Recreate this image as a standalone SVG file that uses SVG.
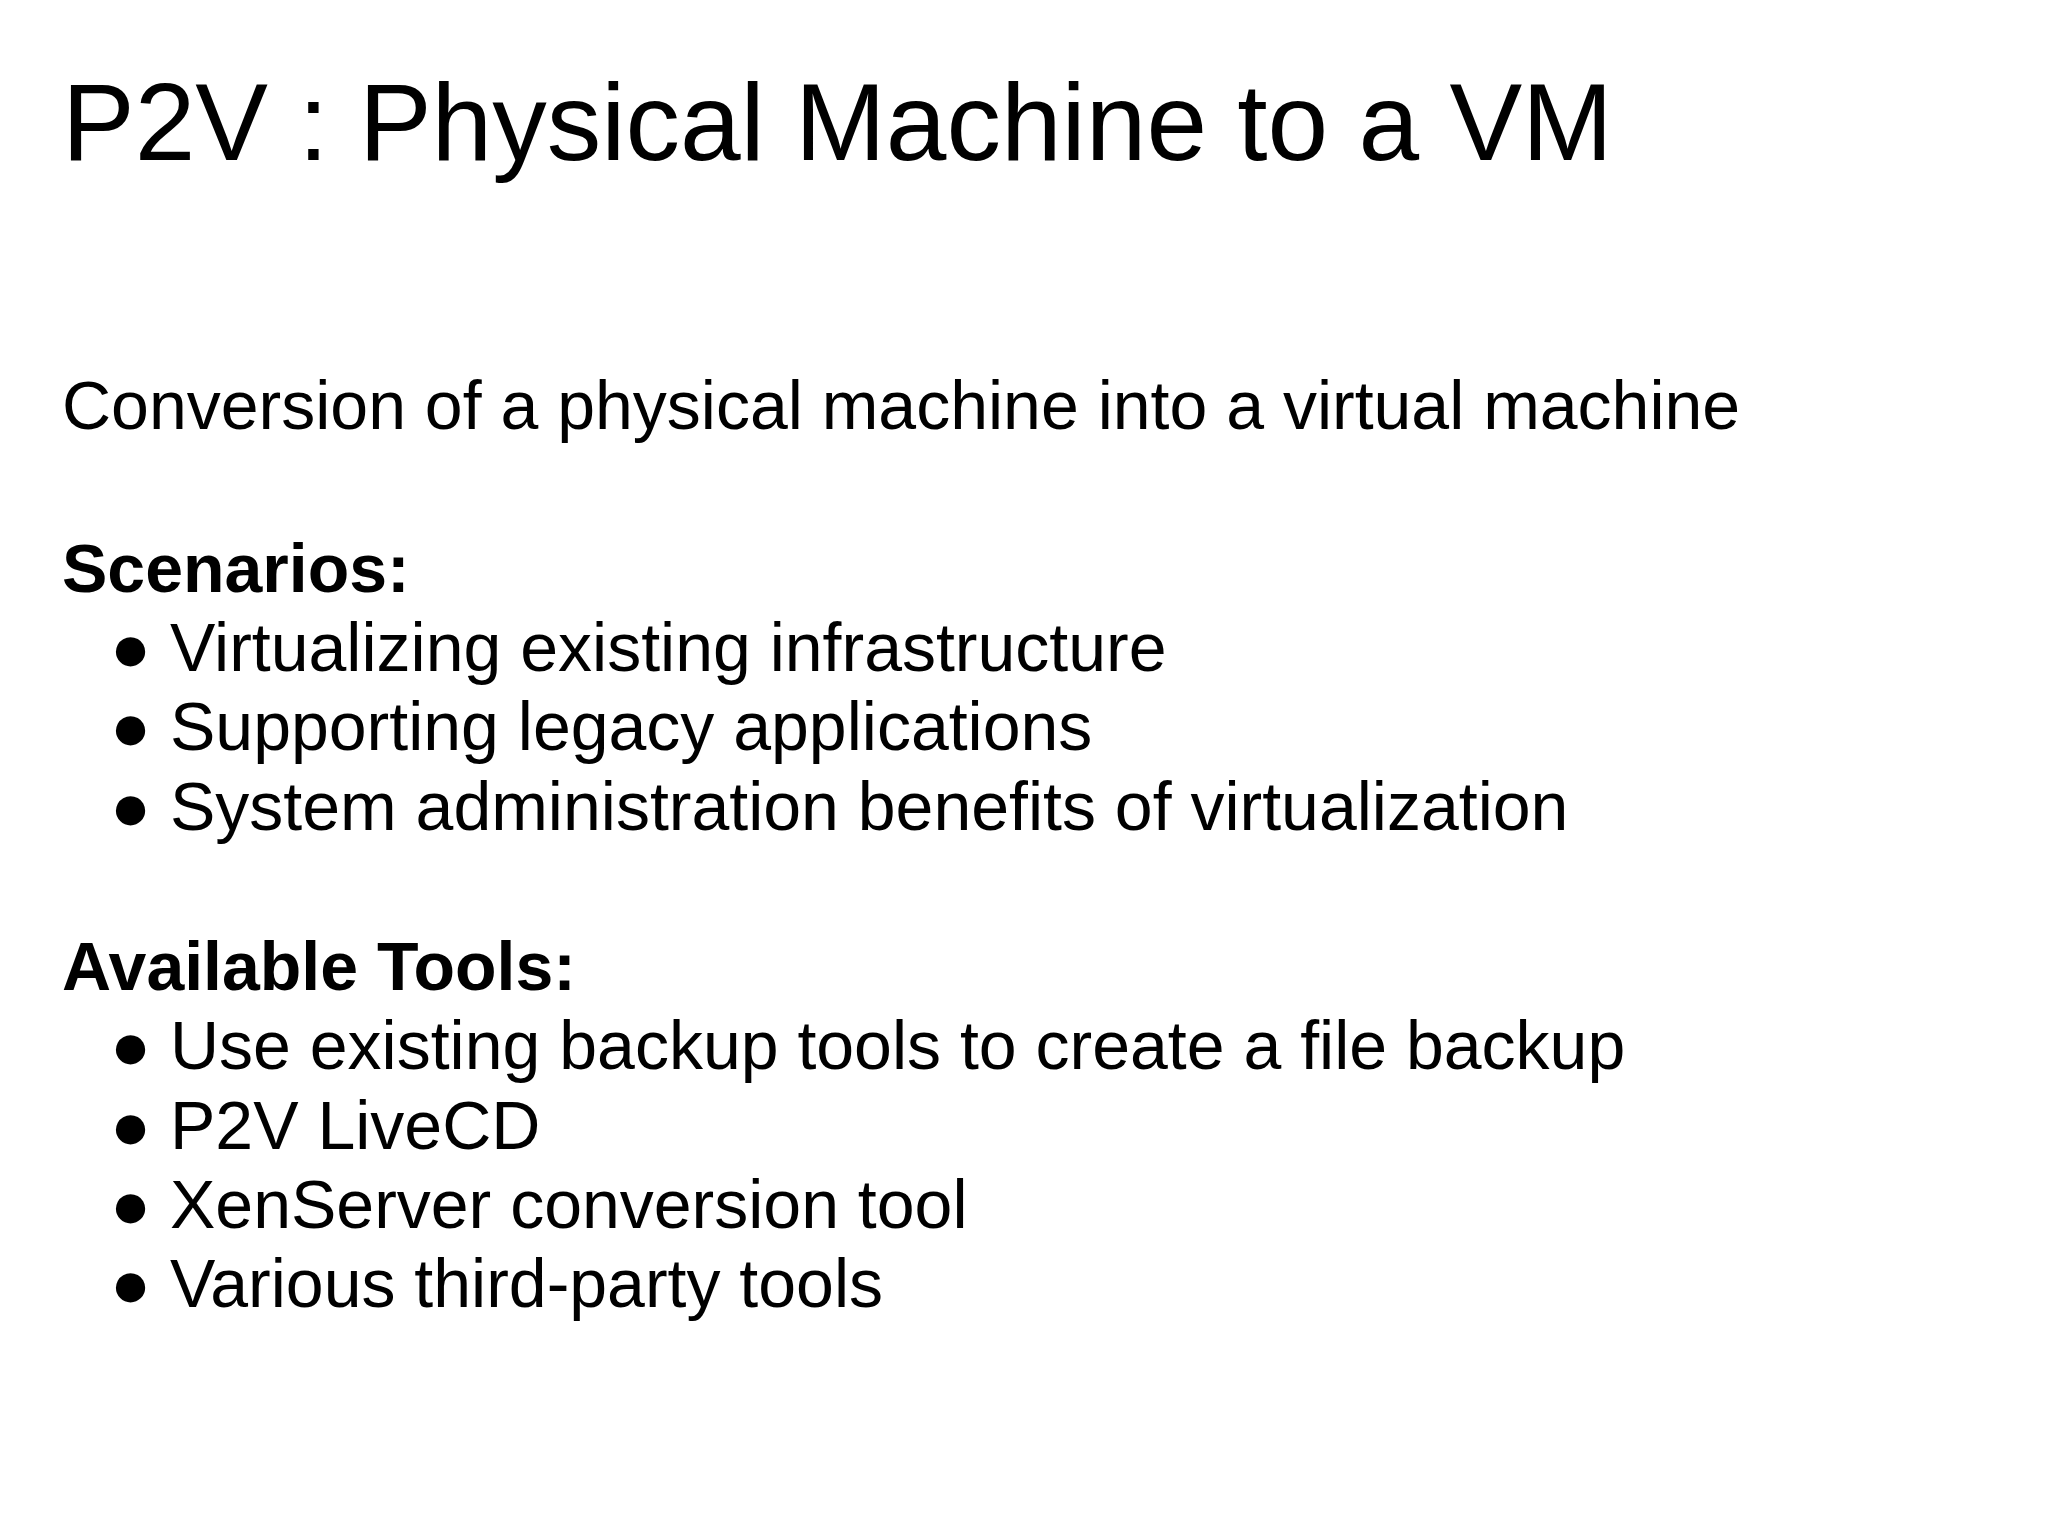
<svg xmlns="http://www.w3.org/2000/svg" width="2048" height="1536" viewBox="0 0 2048 1536">
<style>
text{font-family:"Liberation Sans",Arial,sans-serif;fill:#000}
.b{font-size:68px}
.h{font-size:68px;font-weight:bold}
</style>
<rect width="2048" height="1536" fill="#fff"/>
<text x="62" y="160" font-size="109">P2V : Physical Machine to a VM</text>
<text class="b" x="62" y="429">Conversion of a physical machine into a virtual machine</text>
<text class="h" x="62" y="592">Scenarios:</text>
<text class="b" x="110" y="671">● Virtualizing existing infrastructure</text>
<text class="b" x="110" y="750">● Supporting legacy applications</text>
<text class="b" x="110" y="830">● System administration benefits of virtualization</text>
<text class="h" x="62" y="990">Available Tools:</text>
<text class="b" x="110" y="1069">● Use existing backup tools to create a file backup</text>
<text class="b" x="110" y="1149">● P2V LiveCD</text>
<text class="b" x="110" y="1228">● XenServer conversion tool</text>
<text class="b" x="110" y="1307">● Various third-party tools</text>
</svg>
